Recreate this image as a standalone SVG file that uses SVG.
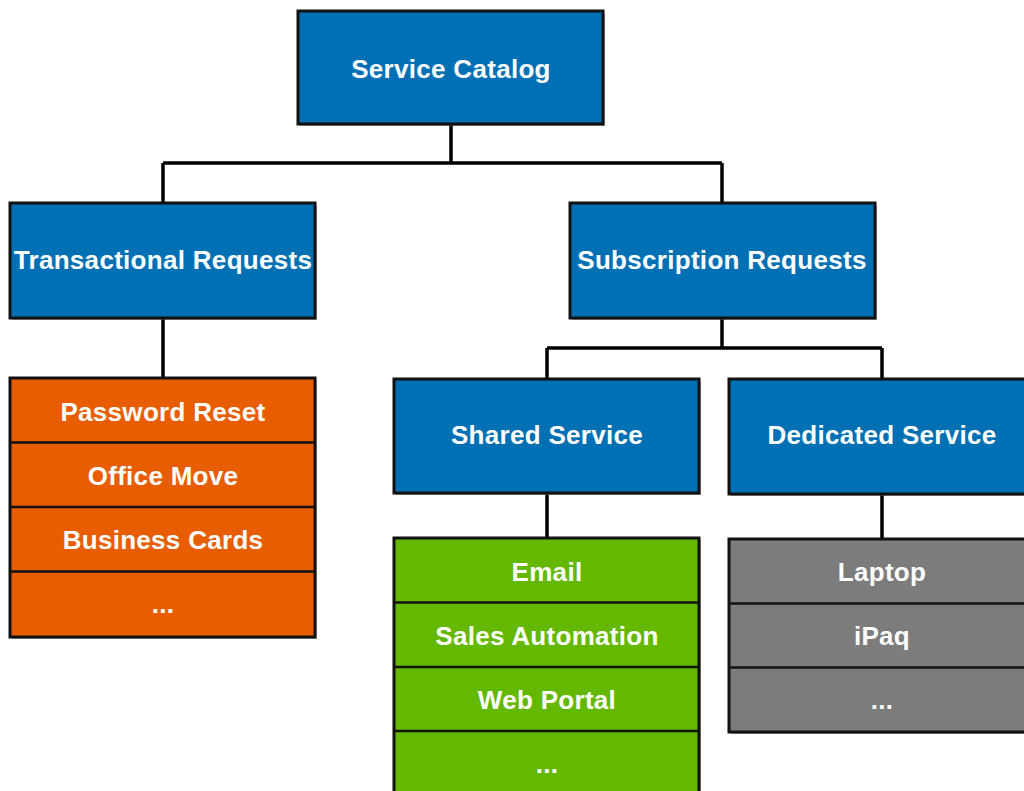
<svg xmlns="http://www.w3.org/2000/svg" width="1024" height="791" viewBox="0 0 1024 791">
<style>
.box{stroke:#111;stroke-width:3}
.blue{fill:#0070B5}
.orange{fill:#E85D00}
.green{fill:#64B800}
.gray{fill:#7C7C7C}
.shadow{fill:#777;opacity:0.6}
.div{stroke:#111;stroke-width:2.5}
.conn{stroke:#000;stroke-width:3.5;fill:none}
text{font-family:"Liberation Sans",Arial,sans-serif;font-weight:bold;font-size:26px;fill:#fff;text-anchor:middle;letter-spacing:0.3px}
</style>
<rect width="1024" height="791" fill="#fff"/>
<g id="connectors">
<path class="conn" d="M451,124 V163 M163,163 H722 M163,163 V203 M722,163 V203"/>
<path class="conn" d="M163,318 V378"/>
<path class="conn" d="M722,318 V348 M547,348 H882 M547,348 V379 M882,348 V379"/>
<path class="conn" d="M547,493 V538 M882,494 V539"/>
</g>
<g id="service-catalog">
<rect class="shadow" x="300" y="13" width="305" height="113"/>
<rect class="box blue" x="298" y="11" width="305" height="113"/>
<text x="451" y="78">Service Catalog</text>
</g>
<g id="transactional-requests">
<rect class="shadow" x="12" y="205" width="305" height="115"/>
<rect class="box blue" x="10" y="203" width="305" height="115"/>
<text x="163" y="269">Transactional Requests</text>
</g>
<g id="subscription-requests">
<rect class="shadow" x="572" y="205" width="305" height="115"/>
<rect class="box blue" x="570" y="203" width="305" height="115"/>
<text x="722" y="269">Subscription Requests</text>
</g>
<g id="shared-service">
<rect class="shadow" x="396" y="381" width="305" height="114"/>
<rect class="box blue" x="394" y="379" width="305" height="114"/>
<text x="547" y="444">Shared Service</text>
</g>
<g id="dedicated-service">
<rect class="shadow" x="731" y="381" width="306" height="115"/>
<rect class="box blue" x="729" y="379" width="306" height="115"/>
<text x="882" y="444">Dedicated Service</text>
</g>
<g id="transactional-list">
<rect class="shadow" x="12" y="380" width="305" height="259"/>
<rect class="box orange" x="10" y="378" width="305" height="259"/>
<path class="div" d="M10,442.5 H315 M10,507 H315 M10,571.5 H315"/>
<text x="163" y="421">Password Reset</text>
<text x="163" y="485">Office Move</text>
<text x="163" y="549">Business Cards</text>
<text x="163" y="613">...</text>
</g>
<g id="shared-list">
<rect class="shadow" x="396" y="540" width="305" height="270"/>
<rect class="box green" x="394" y="538" width="305" height="270"/>
<path class="div" d="M394,602.5 H699 M394,667 H699 M394,731 H699"/>
<text x="547" y="581">Email</text>
<text x="547" y="645">Sales Automation</text>
<text x="547" y="709">Web Portal</text>
<text x="547" y="773">...</text>
</g>
<g id="dedicated-list">
<rect class="shadow" x="731" y="541" width="306" height="193"/>
<rect class="box gray" x="729" y="539" width="306" height="193"/>
<path class="div" d="M729,603.5 H1035 M729,667.5 H1035"/>
<text x="882" y="581">Laptop</text>
<text x="882" y="645">iPaq</text>
<text x="882" y="709">...</text>
</g>
</svg>
